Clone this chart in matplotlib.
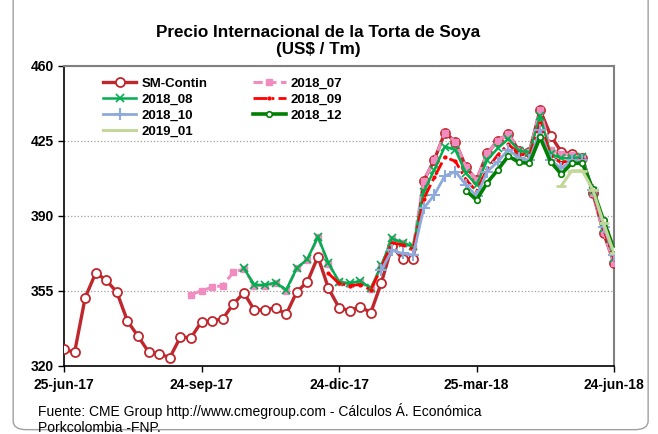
import matplotlib.pyplot as plt
import matplotlib.patches as mpatches
import numpy as np
import pandas as pd

nan = np.nan

dates = pd.date_range('2017-06-25', periods=53, freq='7D')

sm_contin = [327.8, 326.4, 351.9, 363.5, 360.0, 354.4, 340.9, 333.9, 326.5, 325.7,
             323.9, 333.5, 333.2, 340.7, 341.0, 342.0, 348.9, 354.2, 346.0, 346.3,
             347.1, 344.1, 354.6, 359.2, 371.0, 356.2, 347.2, 345.8, 347.7, 344.9,
             358.9, 376.0, 370.0, 370.0, 406.4, 416.1, 428.9, 424.6, 412.7, 406.8,
             419.2, 425.1, 428.3, 420.5, 420.0, 439.5, 427.5, 420.0, 418.8, 417.0,
             400.6, 382.2, 367.9]

s2018_07 = [nan] * 12 + [
             353.3, 355.1, 356.7, 357.5, 363.7, 365.3, 357.5, 357.5,
             358.6, 355.2, 365.6, 369.5, 380.0, 367.7, 359.0, 358.3, 359.4, 355.9,
             366.8, 379.4, 377.3, 375.6, 406.4, 416.1, 428.9, 424.6, 412.7, 406.8,
             419.2, 425.1, 428.3, 420.5, 420.0, 439.5, 421.0, 419.0, 418.5, 417.0,
             400.6, 382.4, 368.0]

s2018_08 = [nan] * 17 + [
             365.6, 357.8, 357.8,
             358.9, 355.5, 365.6, 369.8, 380.3, 368.0, 359.3, 358.6, 359.7, 356.2,
             367.0, 379.6, 377.5, 375.8, 401.3, 411.5, 422.4, 420.8, 409.9, 404.5,
             416.1, 421.6, 426.0, 420.5, 419.5, 436.7, 419.0, 416.9, 417.0, 417.5,
             401.5, 384.5, 370.5]

s2018_09 = [nan] * 25 + [
             363.2, 358.5, 357.5, 358.0, 355.5,
             366.0, 377.5, 376.5, 374.5, 398.0, 408.0, 417.5, 415.5, 407.0, 401.5,
             412.0, 418.5, 423.5, 419.0, 418.0, 433.3, 418.0, 414.9, 416.1, 416.5,
             401.0, 384.0, 370.0]

s2018_10 = [nan] * 30 + [
             364.8, 374.0, 372.5, 371.8, 393.6, 399.8, 408.7, 410.7, 404.5, 399.3,
             410.7, 415.3, 421.0, 416.9, 416.1, 430.0, 416.0, 412.2, 416.0, 416.0,
             402.0, 385.0, 372.0]

s2018_12 = [nan] * 38 + [
             401.8, 397.5,
             405.5, 411.5, 418.0, 415.0, 414.6, 426.7, 415.3, 409.5, 414.6, 414.6,
             402.4, 388.0, 374.4]

s2019_01 = [nan] * 47 + [404.0, 411.1, 411.1, 402.1, 386.6, 372.6]

tick_dates = pd.to_datetime(['2017-06-25', '2017-09-24', '2017-12-24', '2018-03-25', '2018-06-24'])
tick_labels = ['25-jun-17', '24-sep-17', '24-dic-17', '25-mar-18', '24-jun-18']

fig = plt.figure(figsize=(6.58, 4.34), dpi=100)
ax = fig.add_axes([0.0973, 0.1567, 0.836, 0.6913])

l_sm, = ax.plot(dates, sm_contin, color='#C0272D', lw=2.4, marker='o', ms=6.5,
                mfc='white', mec='#C0272D', mew=1.3, label='SM-Contin', zorder=3)
l07, = ax.plot(dates, s2018_07, color='#F08CC0', lw=2.2, ls=(0, (3, 1.5)), marker='s',
               ms=4, mfc='#F08CC0', mec='#F08CC0', label='2018_07', zorder=4)
l08, = ax.plot(dates, s2018_08, color='#00B050', lw=1.8, marker='x', ms=6,
               mew=1.2, label='2018_08', zorder=5)
l09, = ax.plot(dates, s2018_09, color='#FF0000', lw=2.0, ls=(0, (5, 1.5, 1, 1.5)),
               marker='.', ms=4, label='2018_09', zorder=6)
l10, = ax.plot(dates, s2018_10, color='#8EA9DB', lw=2.0, marker='+', ms=9,
               mew=1.5, label='2018_10', zorder=7)
l12, = ax.plot(dates, s2018_12, color='#008000', lw=2.6, marker='o', ms=4,
               mfc='white', mec='#008000', mew=1.2, label='2018_12', zorder=8)
l01, = ax.plot(dates, s2019_01, color='#C4D79B', lw=2.2, marker='_', ms=7,
               mew=2, label='2019_01', zorder=9)

ax.set_ylim(320, 460)
ax.set_yticks([320, 355, 390, 425, 460])
ax.set_xlim(dates[0], dates[-1])
ax.set_xticks(tick_dates)
ax.set_xticklabels(tick_labels)
for lbl in ax.get_xticklabels() + ax.get_yticklabels():
    lbl.set_fontweight('bold')
    lbl.set_fontsize(10)
    lbl.set_family('Liberation Sans')
ax.tick_params(axis='both', direction='out', length=4, width=1, pad=3)
ax.tick_params(axis='x', pad=5)
ax.grid(axis='y', ls=':', color='#A0A0A0', lw=0.9)
for s in ['left', 'bottom']:
    ax.spines[s].set_color('black')
    ax.spines[s].set_linewidth(1.2)
for s in ['top', 'right']:
    ax.spines[s].set_color('#808080')
    ax.spines[s].set_linewidth(1.5)

handles = [l_sm, l08, l10, l01, l07, l09, l12]
ax.legend(handles=handles, ncol=2, loc='upper left', bbox_to_anchor=(0.05, 1.0),
          frameon=False, handlelength=2.5, handletextpad=0.4, columnspacing=3.4,
          labelspacing=0.28,
          prop={'family': 'Liberation Sans', 'weight': 'bold', 'size': 9.5})

fig.text(0.483, 0.905, 'Precio Internacional de la Torta de Soya\n(US$ / Tm)',
         ha='center', va='center', fontsize=12.3, fontweight='bold',
         family='Liberation Sans', linespacing=1.15)
fig.text(0.058, 1 - 411 / 434, 'Fuente: CME Group http://www.cmegroup.com - Cálculos Á. Económica',
         ha='left', va='center', fontsize=10, family='Liberation Sans')
fig.text(0.058, 1 - 428 / 434, 'Porkcolombia -FNP.',
         ha='left', va='center', fontsize=10, family='Liberation Sans')

border = mpatches.FancyBboxPatch((0.02, 0.01), 0.965, 1.2, transform=fig.transFigure,
                                 boxstyle='round,pad=0,rounding_size=0.02',
                                 fill=False, ec='#A0A0A0', lw=1)
fig.patches.append(border)

fig.savefig('out.png', dpi=100)
